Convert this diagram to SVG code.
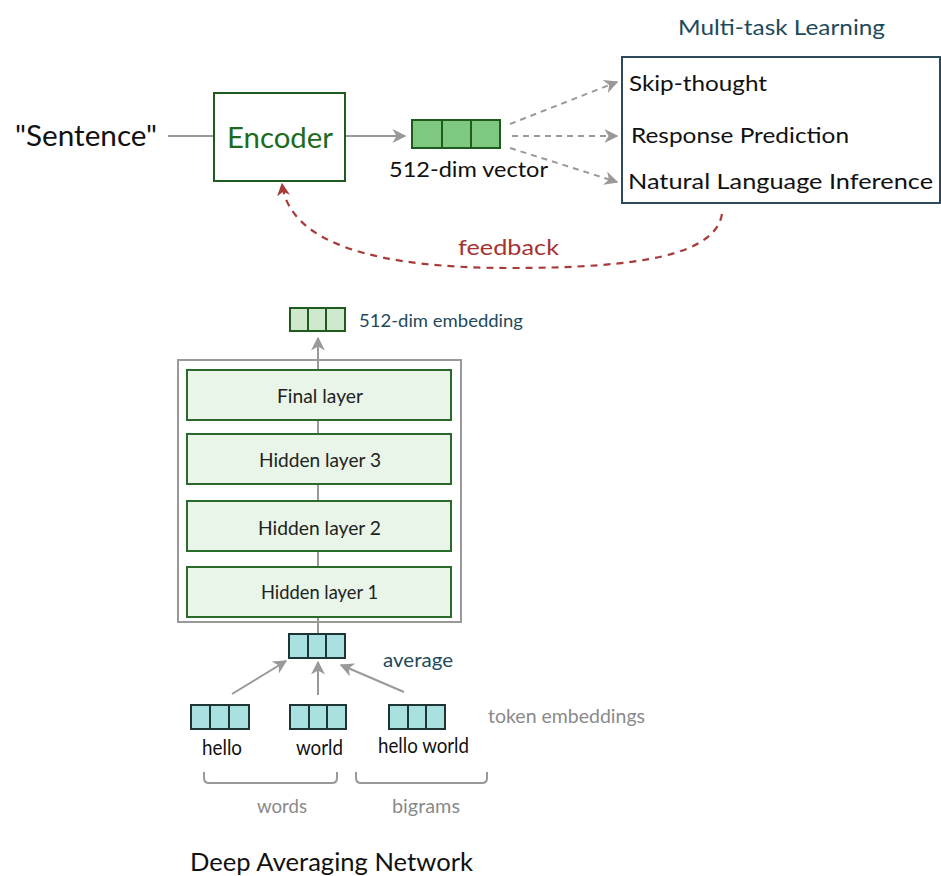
<svg xmlns="http://www.w3.org/2000/svg" width="941" height="876" viewBox="0 0 941 876">
  <defs>
    <marker id="arrGrayL" viewBox="0 0 10 10" refX="9" refY="5" markerWidth="14" markerHeight="14" orient="auto" markerUnits="userSpaceOnUse">
      <path d="M0,0 L10,5 L0,10 L3,5 Z" fill="#999"/>
    </marker>
    <marker id="arrRed" viewBox="0 0 10 10" refX="9" refY="5" markerWidth="13" markerHeight="13" orient="auto" markerUnits="userSpaceOnUse">
      <path d="M0,0 L10,5 L0,10 L3,5 Z" fill="#a83a3a"/>
    </marker>
  </defs>
  <style>
    text { font-family: "Lato", "Open Sans", "Liberation Sans", sans-serif; }
    .big { font-size: 28px; fill: #111; }
    .lbl { font-size: 22px; fill: #111; }
    .tok { font-size: 21px; fill: #111; }
    .teal { fill: #1d4a5c; }
    .grayt { fill: #8a8a8a; font-size: 19px; }
    .layer { fill: #e8f5e8; stroke: #2a6a2a; stroke-width: 2; }
    .layertxt { font-size: 20px; fill: #222; }
    .vecG { fill: #7fc87f; stroke: #1f5a1f; stroke-width: 2; }
    .vecLG { fill: #cfe9cf; stroke: #1f5a1f; stroke-width: 2; }
    .vecC { fill: #a9e0e0; stroke: #1e3535; stroke-width: 2; }
    .conn { stroke: #999; stroke-width: 2; fill: none; }
    .dash { stroke: #999; stroke-width: 2; fill: none; stroke-dasharray: 6 5; }
  </style>

  <!-- connectors -->
  <g id="connectors">
    <line class="conn" x1="168" y1="136" x2="214" y2="136"/>
    <line class="conn" x1="346" y1="136" x2="405" y2="136" marker-end="url(#arrGrayL)"/>
    <line class="dash" x1="510" y1="124" x2="617" y2="82" marker-end="url(#arrGrayL)"/>
    <line class="dash" x1="512" y1="136" x2="617" y2="136" marker-end="url(#arrGrayL)"/>
    <line class="dash" x1="510" y1="148" x2="617" y2="182" marker-end="url(#arrGrayL)"/>
    <path d="M722,214 C715,255 640,268 510,268 C380,268 290,245 282,184" stroke="#a83a3a" stroke-width="2.2" fill="none" stroke-dasharray="7 6" marker-end="url(#arrRed)"/>
    <!-- network stack -->
    <line class="conn" x1="318" y1="370" x2="318" y2="338" marker-end="url(#arrGrayL)"/>
    <line class="conn" x1="318" y1="420" x2="318" y2="434"/>
    <line class="conn" x1="318" y1="484" x2="318" y2="501"/>
    <line class="conn" x1="318" y1="551" x2="318" y2="567"/>
    <line class="conn" x1="318" y1="617" x2="318" y2="634"/>
    <line class="conn" x1="232" y1="694" x2="286" y2="661" marker-end="url(#arrGrayL)"/>
    <line class="conn" x1="318" y1="695" x2="318" y2="662" marker-end="url(#arrGrayL)"/>
    <line class="conn" x1="404" y1="692" x2="341" y2="665" marker-end="url(#arrGrayL)"/>
  </g>

  <!-- input sentence -->
  <g id="sentence">
    <text class="big" x="15" y="146" textLength="142" lengthAdjust="spacingAndGlyphs">"Sentence"</text>
  </g>

  <!-- encoder -->
  <g id="encoder">
    <rect x="214" y="93" width="131" height="88" fill="#fff" stroke="#1f5a1f" stroke-width="2"/>
    <text x="227" y="148" font-size="28" fill="#1e6b1e" textLength="106" lengthAdjust="spacingAndGlyphs">Encoder</text>
  </g>

  <!-- sentence vector -->
  <g id="vector">
    <rect class="vecG" x="412" y="120" width="30" height="28"/>
    <rect class="vecG" x="442" y="120" width="29" height="28"/>
    <rect class="vecG" x="471" y="120" width="29" height="28"/>
    <text class="lbl" x="389" y="177" textLength="159" lengthAdjust="spacingAndGlyphs">512-dim vector</text>
  </g>

  <!-- multi-task learning -->
  <g id="multitask">
    <text x="678" y="35" font-size="22" class="teal" textLength="207" lengthAdjust="spacingAndGlyphs">Multi-task Learning</text>
    <rect x="622" y="57" width="318" height="146" fill="#fff" stroke="#2c4a5a" stroke-width="2"/>
    <text class="lbl" x="629" y="91" textLength="138" lengthAdjust="spacingAndGlyphs">Skip-thought</text>
    <text class="lbl" x="631" y="143" textLength="218" lengthAdjust="spacingAndGlyphs">Response Prediction</text>
    <text class="lbl" x="628" y="189" textLength="305" lengthAdjust="spacingAndGlyphs">Natural Language Inference</text>
  </g>

  <g id="feedback">
    <text x="458" y="255" font-size="22" fill="#a83232" textLength="101" lengthAdjust="spacingAndGlyphs">feedback</text>
  </g>

  <!-- output embedding -->
  <g id="embedding">
    <rect class="vecLG" x="290" y="308" width="18" height="23"/>
    <rect class="vecLG" x="308" y="308" width="18" height="23"/>
    <rect class="vecLG" x="326" y="308" width="19" height="23"/>
    <text x="359" y="327" font-size="18" class="teal" textLength="164" lengthAdjust="spacingAndGlyphs">512-dim embedding</text>
  </g>

  <!-- network layers -->
  <g id="dan">
    <rect x="178" y="360" width="283" height="262" fill="none" stroke="#999" stroke-width="2"/>
  </g>
  <g id="final-layer">
    <rect class="layer" x="187" y="370" width="264" height="50"/>
    <text class="layertxt" x="277" y="403" textLength="86" lengthAdjust="spacingAndGlyphs">Final layer</text>
  </g>
  <g id="hidden-3">
    <rect class="layer" x="187" y="434" width="264" height="50"/>
    <text class="layertxt" x="259" y="467" textLength="122" lengthAdjust="spacingAndGlyphs">Hidden layer 3</text>
  </g>
  <g id="hidden-2">
    <rect class="layer" x="187" y="501" width="264" height="50"/>
    <text class="layertxt" x="258" y="535" textLength="123" lengthAdjust="spacingAndGlyphs">Hidden layer 2</text>
  </g>
  <g id="hidden-1">
    <rect class="layer" x="187" y="567" width="264" height="50"/>
    <text class="layertxt" x="261" y="599" textLength="117" lengthAdjust="spacingAndGlyphs">Hidden layer 1</text>
  </g>

  <!-- average -->
  <g id="average">
    <rect class="vecC" x="289" y="634" width="19" height="24"/>
    <rect class="vecC" x="308" y="634" width="18" height="24"/>
    <rect class="vecC" x="326" y="634" width="19" height="24"/>
    <text x="383" y="667" font-size="19" class="teal" textLength="70" lengthAdjust="spacingAndGlyphs">average</text>
  </g>

  <!-- token embeddings -->
  <g id="tok-hello">
    <rect class="vecC" x="191" y="705" width="19" height="24"/>
    <rect class="vecC" x="210" y="705" width="19" height="24"/>
    <rect class="vecC" x="229" y="705" width="20" height="24"/>
    <text class="tok" x="202" y="755" textLength="40" lengthAdjust="spacingAndGlyphs">hello</text>
  </g>
  <g id="tok-world">
    <rect class="vecC" x="290" y="705" width="19" height="24"/>
    <rect class="vecC" x="309" y="705" width="18" height="24"/>
    <rect class="vecC" x="327" y="705" width="19" height="24"/>
    <text class="tok" x="296" y="755" textLength="47" lengthAdjust="spacingAndGlyphs">world</text>
  </g>
  <g id="tok-hello-world">
    <rect class="vecC" x="389" y="705" width="19" height="24"/>
    <rect class="vecC" x="408" y="705" width="18" height="24"/>
    <rect class="vecC" x="426" y="705" width="19" height="24"/>
    <text class="tok" x="378" y="753" textLength="91" lengthAdjust="spacingAndGlyphs">hello world</text>
  </g>
  <g id="token-label">
    <text class="grayt" x="488" y="723" textLength="157" lengthAdjust="spacingAndGlyphs">token embeddings</text>
  </g>

  <!-- groupings -->
  <g id="words">
    <path d="M204,772 L204,778 Q204,783 209,783 L332,783 Q337,783 337,778 L337,772" class="conn"/>
    <text class="grayt" x="257" y="813" textLength="50" lengthAdjust="spacingAndGlyphs">words</text>
  </g>
  <g id="bigrams">
    <path d="M356,772 L356,778 Q356,783 361,783 L482,783 Q487,783 487,778 L487,772" class="conn"/>
    <text class="grayt" x="392" y="813" textLength="68" lengthAdjust="spacingAndGlyphs">bigrams</text>
  </g>

  <g id="title">
    <text x="190" y="871" font-size="25" fill="#111" textLength="283" lengthAdjust="spacingAndGlyphs">Deep Averaging Network</text>
  </g>
</svg>
